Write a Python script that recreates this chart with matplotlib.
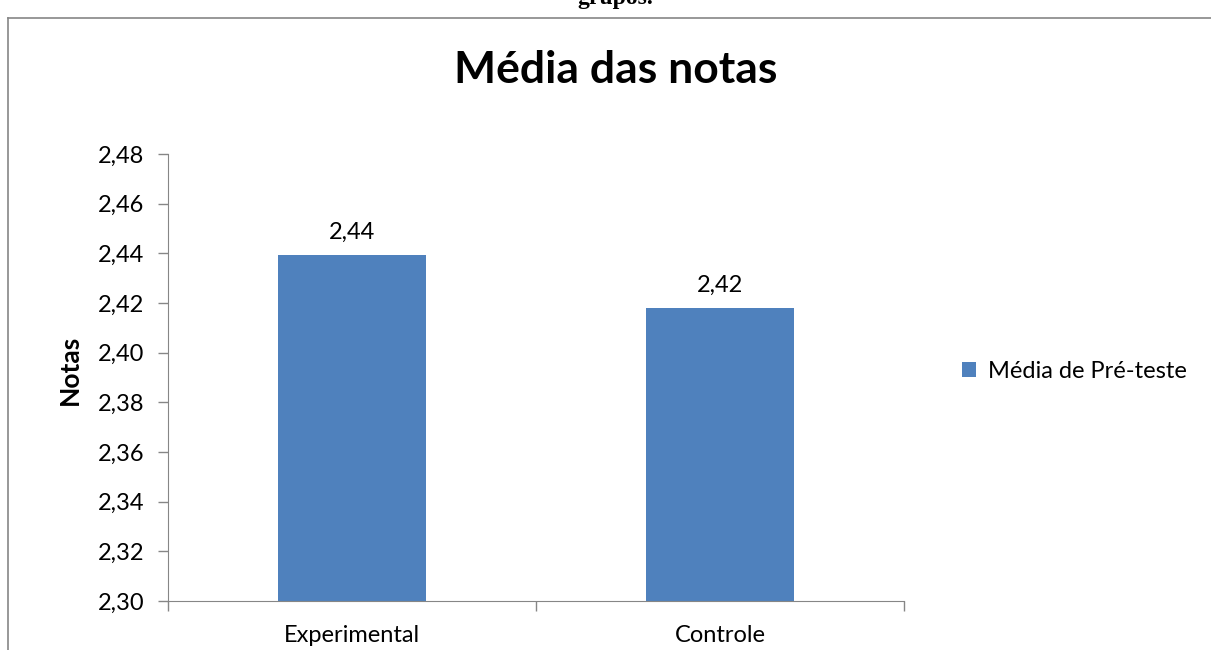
import numpy as np
import matplotlib.pyplot as plt
from matplotlib.lines import Line2D

# dados do gráfico
grupos = ["Experimental", "Controle"]
medias = [2.4393, 2.418]
serie = "Média de Pré-teste"
yticks = [2.30, 2.32, 2.34, 2.36, 2.38, 2.40, 2.42, 2.44, 2.46, 2.48]

cor = "#4F81BD"
cinza = "#868686"
fs = 17
plt.rcParams['font.family'] = ['Lato', 'DejaVu Sans']

fig = plt.figure(figsize=(12.11, 6.5), dpi=100)
ax = fig.add_axes([0.1387, 0.0754, 0.6078, 0.6877])

x = np.arange(len(grupos))
barras = ax.bar(x, medias, width=0.4, color=cor, label=serie)
rotulos = [f"{v:.2f}".replace(".", ",") for v in medias]
ax.bar_label(barras, labels=rotulos, padding=9, fontsize=fs)

ax.set_xlim(-0.5, len(grupos) - 0.5)
ax.set_ylim(2.30, 2.48)
ax.set_yticks(yticks)
ax.set_yticklabels([f"{v:.2f}".replace(".", ",") for v in yticks], fontsize=fs)

# marcas nos limites das categorias, rótulos no centro
ax.set_xticks(np.arange(-0.5, len(grupos)))
ax.set_xticklabels([])
ax.set_xticks(x, minor=True)
ax.set_xticklabels(grupos, minor=True, fontsize=fs)
ax.tick_params(axis="x", which="minor", length=0, pad=17)
ax.tick_params(axis="both", which="major", length=7, color=cinza, width=1)
ax.tick_params(axis="y", pad=10)

for s in ["top", "right"]:
    ax.spines[s].set_visible(False)
for s in ["left", "bottom"]:
    ax.spines[s].set_color(cinza)

ax.set_ylabel("Notas", fontsize=19, fontweight="bold")
ax.yaxis.set_label_coords(-0.117, 0.517)

fig.text(0.508, 1 - 83 / 650, "Média das notas", ha="center", va="baseline",
         fontsize=32, fontweight="bold")

fig.legend(handles=[barras], labels=[serie], loc="center left",
           bbox_to_anchor=(962 / 1211, 1 - 371 / 650), frameon=False, fontsize=fs,
           handlelength=0.6, handleheight=0.6, handletextpad=0.5, borderpad=0,
           borderaxespad=0)

# moldura do gráfico e texto cortado acima
fig.add_artist(Line2D([8 / 1211, 8 / 1211], [0, 1 - 18 / 650],
                      transform=fig.transFigure, color=cinza, lw=1.2))
fig.add_artist(Line2D([8 / 1211, 1], [1 - 18 / 650, 1 - 18 / 650],
                      transform=fig.transFigure, color=cinza, lw=1.2))
fig.text(0.508, 1 - 4 / 650, "grupos.", ha="center", va="baseline",
         fontsize=17, fontweight="bold", family=["Liberation Serif"])

fig.savefig("out.png", dpi=100)
